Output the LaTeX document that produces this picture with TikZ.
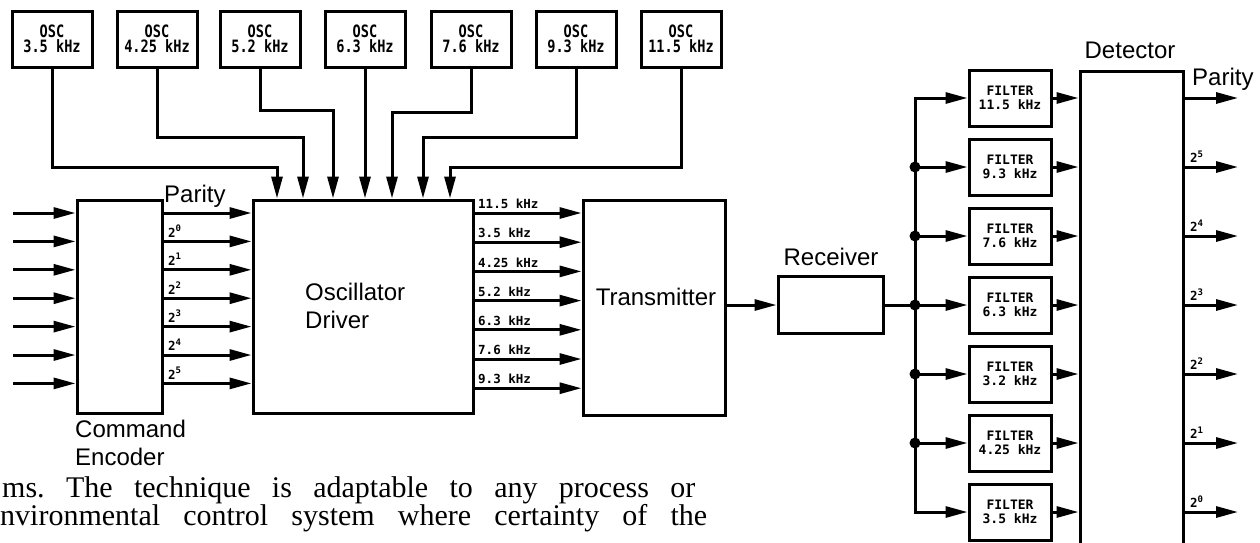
\documentclass[tikz,border=0pt]{standalone}
\usepackage{fontspec}
\setmainfont{Liberation Sans}
\newfontfamily\textserif{Liberation Serif}
\newfontfamily\lettering[FakeStretch=0.8]{DejaVu Sans Mono Bold}
\newfontfamily\letteringw{DejaVu Sans Mono Bold}
\newcommand\bitpow[1]{2\raisebox{0.45em}{\fontsize{9}{9}\selectfont#1}}
\usetikzlibrary{arrows.meta,positioning,calc}

\tikzset{
  blk/.style={draw, line width=3pt, inner sep=0pt},
  oscbox/.style={blk, minimum width=80pt, minimum height=56pt, align=center,
    font=\lettering\fontsize{17}{14.5}\selectfont},
  filtbox/.style={blk, minimum width=82pt, minimum height=56pt, align=center,
    font=\letteringw\fontsize{13}{14.5}\selectfont},
  wire/.style={line width=3pt},
  sig/.style={wire, -{Triangle[length=22pt,width=11pt]}},
  lbl/.style={font=\fontsize{24}{28}\selectfont, inner sep=0pt},
  tag/.style={font=\letteringw\fontsize{12.5}{13}\selectfont, inner sep=0pt},
  junction/.style={circle, fill, inner sep=0pt, minimum size=11pt},
}

\begin{document}
\begin{tikzpicture}[x=1pt,y=-1pt]
\useasboundingbox (0,0) rectangle (1260,542);

% oscillators along the top
\foreach \i/\x/\fq in {1/52/3.5, 2/157/4.25, 3/260/5.2, 4/365/6.3, 5/471/7.6, 6/576/9.3, 7/681/11.5}
  \node[oscbox] (osc\i) at (\x,39) {OSC\\\fq\ kHz};

% main blocks
\node[blk, minimum width=85pt, minimum height=213pt] (enc) at (119.5,306.5) {};
\node[blk, minimum width=220pt, minimum height=213pt] (drv) at (363,306.5) {};
\node[blk, minimum width=142pt, minimum height=215pt] (tx) at (654,307.5) {};
\node[blk, minimum width=105pt, minimum height=57pt] (rx) at (830.5,305) {};
\node[blk, minimum width=103pt, minimum height=480pt, anchor=north] (det) at (1131.5,70) {};

\node[lbl, anchor=base west] (encname) at (75,437) {Command};
\node[lbl, anchor=base west] (encname2) at (75,465) {Encoder};
\node[lbl, anchor=base west] (drvname) at (305,300) {Oscillator};
\node[lbl, anchor=base west] (drvname2) at (305,328) {Driver};
\node[lbl, anchor=base] (txname) at (656,305) {Transmitter};
\node[lbl, anchor=base] (rxname) at (831,265) {Receiver};
\node[lbl, anchor=base] (detname) at (1130,58) {Detector};

% command inputs and encoder outputs
\foreach \i in {0,...,6} {
  \coordinate (in\i) at (13,{213+28.4*\i});
  \draw[sig] (in\i) -- (in\i -| enc.west);
  \draw[sig] (enc.east |- in\i) -- (drv.west |- in\i);
}
\node[lbl, anchor=base west] (encpar) at (164,202) {Parity};
\foreach \i/\e in {1/0,2/1,3/2,4/3,5/4,6/5}
  \node[tag, anchor=south west] (encbit\e) at (168,{209+28.4*\i}) {\bitpow{\e}};

% oscillator leads into the driver
\foreach \i/\x/\j in {1/277/167, 2/303/137, 3/333/110, 4/365/110, 5/392/112, 6/423/137, 7/450/167} {
  \coordinate (d\i) at (\x,\j);
  \draw[sig] (osc\i.south) |- (d\i) -- (d\i |- drv.north);
}

% driver outputs
\foreach \fq [count=\i from 0] in {11.5,3.5,4.25,5.2,6.3,7.6,9.3} {
  \coordinate (q\i) at (0,{213+29.2*\i});
  \draw[sig] (drv.east |- q\i) -- (tx.west |- q\i);
  \node[tag, anchor=south west] (drvtag\i) at (478,{209+29.2*\i}) {\fq\ kHz};
}

% link and filter bank
\draw[sig] (tx.east |- rx.west) -- (rx.west);
\coordinate (bus) at (915,305);
\coordinate (out) at (1238,0);
\foreach \fq [count=\i] in {11.5,9.3,7.6,6.3,3.2,4.25,3.5}
  \node[filtbox] (flt\i) at (1010,{29+69*\i}) {FILTER\\\fq\ kHz};

\draw[wire] (rx.east) -- (bus);
\draw[wire, line cap=rect] (flt1.west -| bus) -- (flt7.west -| bus);
\foreach \i in {1,...,7} {
  \draw[sig] (flt\i.west -| bus) -- (flt\i.west);
  \draw[sig] (flt\i.east) -- (flt\i.east -| det.west);
  \draw[sig] (flt\i.east -| det.east) -- (flt\i.east -| out);
}
\foreach \i in {2,...,6}
  \node[junction] (j\i) at (flt\i.west -| bus) {};

\node[lbl, anchor=base west] (detpar) at (1192,85) {Parity};
\foreach \i/\e in {2/5,3/4,4/3,5/2,6/1,7/0}
  \node[tag, anchor=south west] (detbit\e) at (1190,{25+69*\i}) {\bitpow{\e}};

% running text below
\node[anchor=base west, inner sep=0pt, font=\textserif\fontsize{30}{30}\selectfont] (para1) at (2,497)
  {\frenchspacing\makebox[693pt][s]{ms. The technique is adaptable to any process or}};
\node[anchor=base west, inner sep=0pt, font=\textserif\fontsize{30}{30}\selectfont] (para2) at (0,525)
  {\frenchspacing\makebox[707pt][s]{nvironmental control system where certainty of the}};

\end{tikzpicture}
\end{document}
